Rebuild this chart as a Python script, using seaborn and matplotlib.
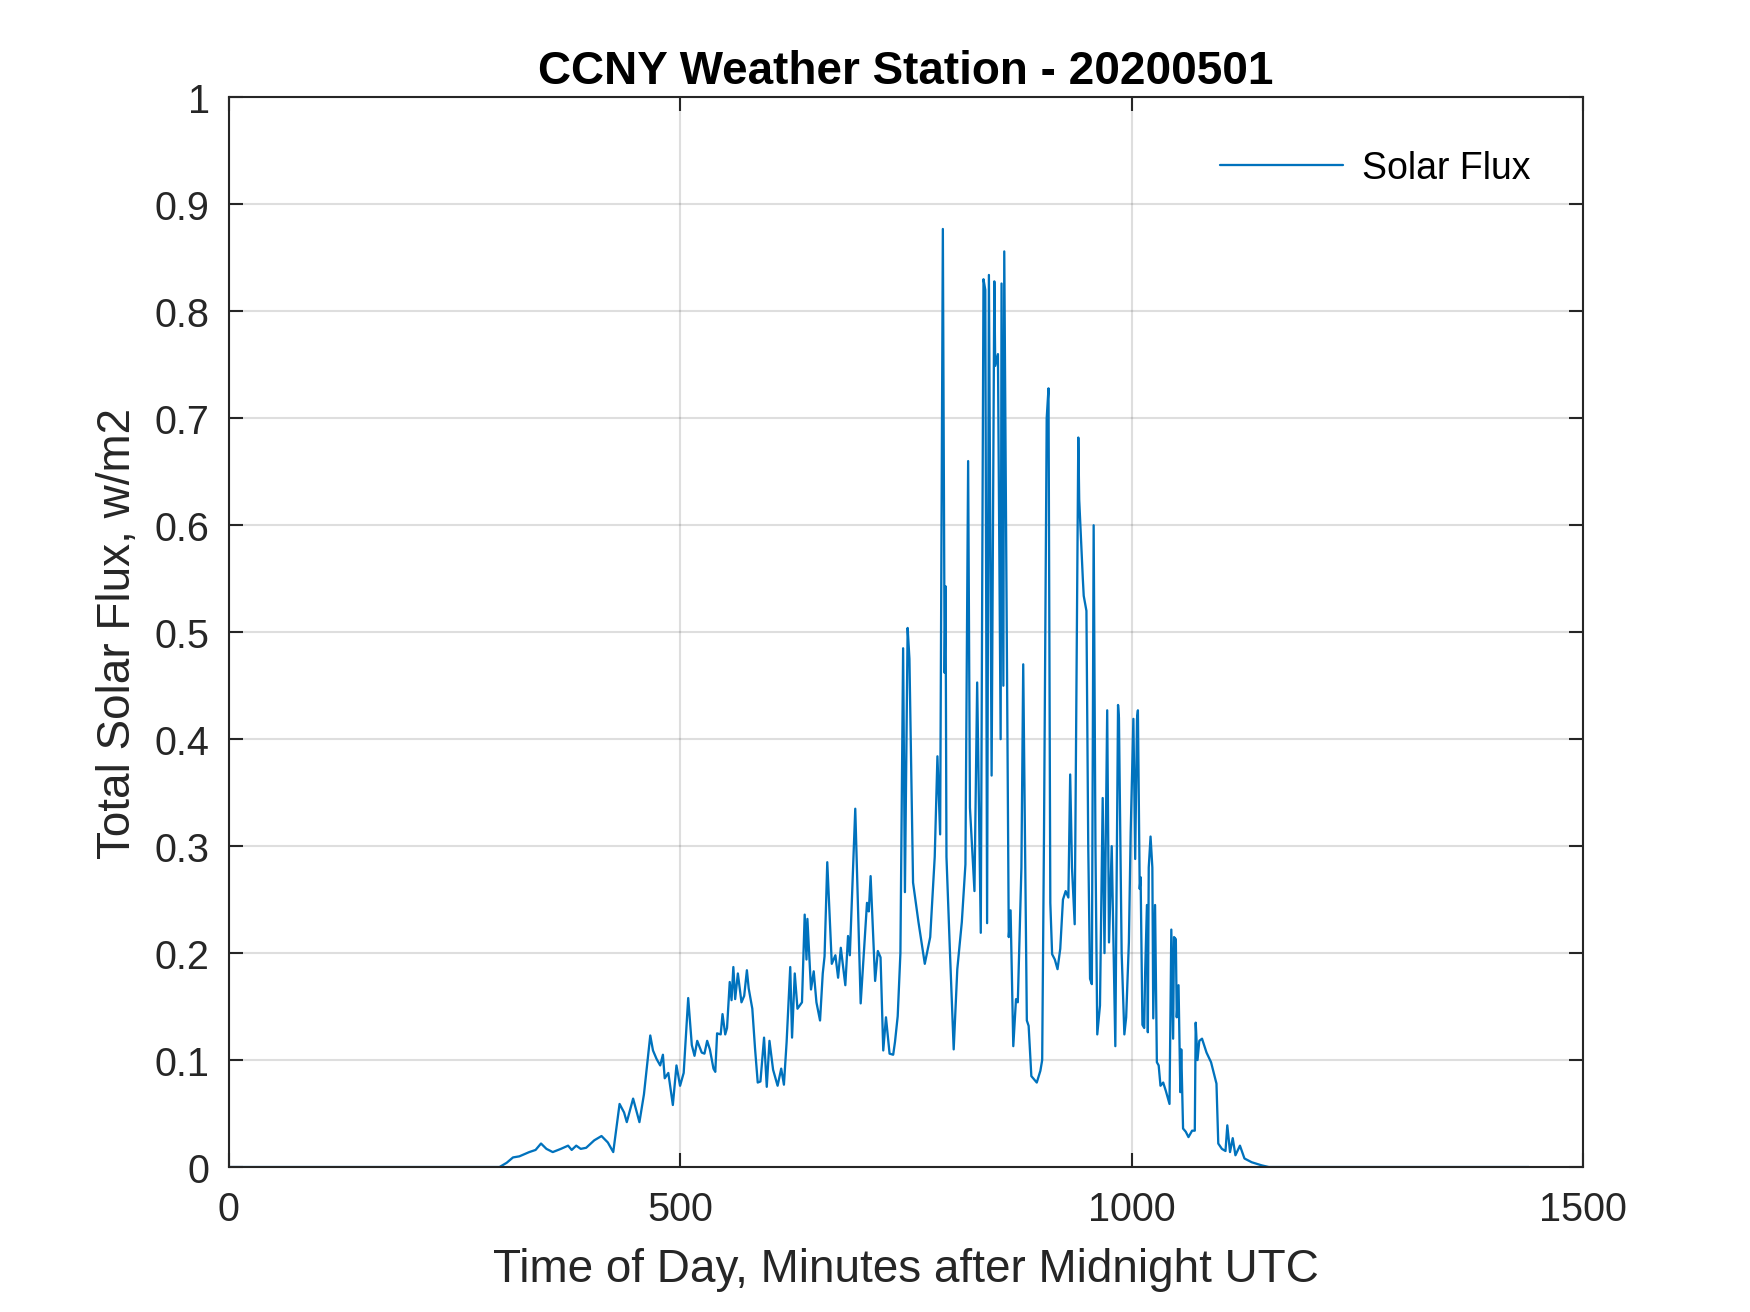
import matplotlib
matplotlib.use("Agg")
from matplotlib import pyplot as plt
import seaborn as sns

# minutes after midnight UTC
minutes = [
    0, 300, 308, 315, 322, 333, 340, 346, 352, 359, 368, 376, 380, 385, 390,
    396, 405, 413, 420, 426, 433, 438, 441, 448, 455, 460, 467, 470, 474, 478,
    481, 483, 487, 492, 496, 500, 504, 509, 513, 516, 519, 524, 527, 530, 533,
    537, 539, 541, 545, 547, 550, 552, 555, 557, 559, 561, 564, 568, 571, 574,
    576, 580, 583, 586, 589, 593, 596, 599, 603, 608, 612, 615, 618, 622, 624,
    627, 630, 635, 638, 640, 641, 645, 648, 651, 655, 658, 660, 663, 668, 672,
    675, 678, 683, 686, 688, 694, 700, 707, 709, 711, 716, 719, 722, 725, 728,
    732, 736, 738, 741, 744, 747, 749, 752, 754, 758, 764, 771, 777, 782, 785,
    788, 791, 793, 794, 795, 799, 803, 807, 812, 816, 819, 821, 826, 829, 833,
    836, 838, 840, 842, 845, 848, 849, 852, 855, 856, 858, 859, 864, 866, 869,
    872, 874, 878, 880, 882, 884, 886, 889, 895, 899, 901, 903, 906, 908, 910,
    912, 915, 918, 921, 924, 927, 930, 932, 934, 937, 941, 942, 946, 947, 950,
    952, 954, 956, 958, 960, 962, 965, 968, 970, 973, 975, 978, 982, 985, 986,
    989, 992, 994, 997, 999, 1002, 1004, 1006, 1007, 1009, 1010, 1012, 1014,
    1015, 1017, 1018, 1019, 1021, 1023, 1024, 1026, 1028, 1030, 1032, 1035,
    1038, 1042, 1044, 1046, 1047, 1049, 1050, 1052, 1054, 1055, 1057, 1060,
    1063, 1067, 1070, 1071, 1073, 1075, 1078, 1083, 1088, 1094, 1096, 1100,
    1104, 1106, 1109, 1112, 1115, 1120, 1125, 1133, 1144, 1152, 1440,
]

# total solar flux, w/m2
solar_flux = [
    0, 0, 0.004, 0.009, 0.010, 0.014, 0.016, 0.022, 0.017, 0.014, 0.017, 0.020,
    0.016, 0.020, 0.017, 0.018, 0.025, 0.029, 0.023, 0.014, 0.059, 0.051,
    0.042, 0.064, 0.042, 0.068, 0.123, 0.109, 0.101, 0.095, 0.105, 0.083,
    0.088, 0.058, 0.095, 0.076, 0.088, 0.158, 0.114, 0.104, 0.118, 0.107,
    0.106, 0.118, 0.110, 0.092, 0.089, 0.125, 0.124, 0.143, 0.124, 0.130,
    0.173, 0.156, 0.187, 0.157, 0.181, 0.154, 0.160, 0.184, 0.167, 0.148,
    0.111, 0.079, 0.080, 0.121, 0.075, 0.118, 0.091, 0.076, 0.092, 0.077,
    0.117, 0.187, 0.121, 0.181, 0.148, 0.154, 0.236, 0.194, 0.232, 0.166,
    0.183, 0.154, 0.137, 0.181, 0.197, 0.285, 0.190, 0.198, 0.177, 0.205,
    0.170, 0.216, 0.198, 0.335, 0.153, 0.247, 0.239, 0.272, 0.174, 0.202,
    0.196, 0.109, 0.140, 0.106, 0.105, 0.117, 0.141, 0.200, 0.485, 0.257,
    0.504, 0.475, 0.266, 0.229, 0.190, 0.215, 0.290, 0.384, 0.311, 0.877,
    0.462, 0.543, 0.290, 0.198, 0.110, 0.185, 0.229, 0.283, 0.660, 0.336,
    0.258, 0.453, 0.219, 0.830, 0.820, 0.228, 0.834, 0.366, 0.828, 0.749,
    0.760, 0.400, 0.826, 0.450, 0.856, 0.215, 0.240, 0.113, 0.157, 0.154,
    0.280, 0.470, 0.300, 0.137, 0.132, 0.085, 0.079, 0.090, 0.100, 0.310,
    0.700, 0.728, 0.247, 0.199, 0.194, 0.185, 0.204, 0.250, 0.258, 0.252,
    0.367, 0.280, 0.227, 0.682, 0.624, 0.550, 0.534, 0.520, 0.300, 0.176,
    0.171, 0.600, 0.300, 0.124, 0.151, 0.345, 0.200, 0.427, 0.210, 0.300,
    0.113, 0.432, 0.420, 0.200, 0.124, 0.140, 0.210, 0.313, 0.419, 0.288,
    0.419, 0.427, 0.260, 0.271, 0.133, 0.130, 0.181, 0.245, 0.126, 0.280,
    0.309, 0.280, 0.139, 0.245, 0.098, 0.095, 0.076, 0.079, 0.071, 0.059,
    0.222, 0.120, 0.215, 0.213, 0.140, 0.170, 0.070, 0.110, 0.036, 0.033,
    0.028, 0.034, 0.034, 0.135, 0.100, 0.118, 0.120, 0.107, 0.098, 0.078,
    0.022, 0.017, 0.015, 0.039, 0.014, 0.027, 0.011, 0.020, 0.008, 0.0045,
    0.0016, 0, 0,
]

x_ticks = [0, 500, 1000, 1500]
y_ticks = [0, 0.1, 0.2, 0.3, 0.4, 0.5, 0.6, 0.7, 0.8, 0.9, 1]
y_tick_labels = ["0", "0.1", "0.2", "0.3", "0.4", "0.5", "0.6", "0.7", "0.8", "0.9", "1"]

sns.set_theme(style="white")
plt.rcParams["font.family"] = ["Liberation Sans", "DejaVu Sans"]

axis_grey = "#262626"
line_blue = "#0072BD"

fig = plt.figure(figsize=(11.667, 8.753), dpi=150)
ax = fig.add_axes([0.1306, 0.1104, 0.774, 0.8147])

sns.lineplot(x=minutes, y=solar_flux, ax=ax, color=line_blue, linewidth=1.1,
             label="Solar Flux", estimator=None)

ax.set_xlim(0, 1500)
ax.set_ylim(0, 1)
ax.set_xticks(x_ticks)
ax.set_yticks(y_ticks)
ax.set_yticklabels(y_tick_labels)
ax.grid(True, color=axis_grey, alpha=0.15, linewidth=1.0)
ax.set_axisbelow(True)

for side in ax.spines.values():
    side.set_color(axis_grey)
    side.set_linewidth(1.0)

ax.tick_params(axis="both", which="both", direction="in", length=6.5, width=1.0,
               color=axis_grey, labelcolor=axis_grey, labelsize=19,
               top=True, right=True, bottom=True, left=True)
ax.tick_params(axis="x", pad=11)
ax.tick_params(axis="y", pad=9)

ax.set_xlabel("Time of Day, Minutes after Midnight UTC", fontsize=22,
              color=axis_grey, labelpad=9)
ax.set_ylabel("Total Solar Flux, w/m2", fontsize=22, color=axis_grey, labelpad=7)
ax.set_title("CCNY Weather Station - 20200501", fontsize=22, fontweight="bold",
             color="black", pad=7)

leg = ax.legend(loc="upper right", frameon=False, fontsize=18, handlelength=3.3,
                handletextpad=0.5, borderaxespad=1.0)
for t in leg.get_texts():
    t.set_color("black")

fig.savefig("out.png", dpi=150)
